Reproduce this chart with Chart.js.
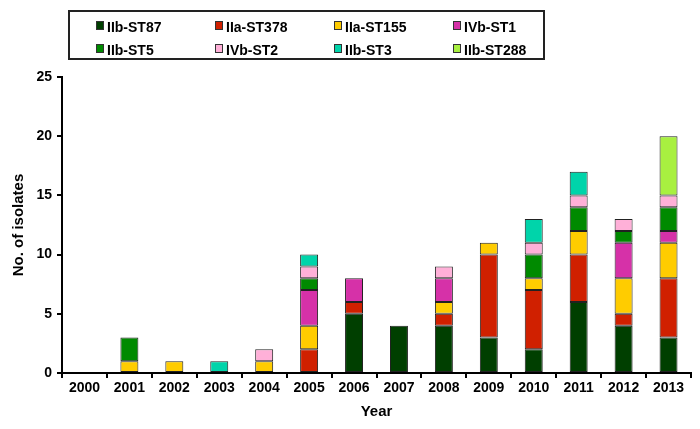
<!DOCTYPE html>
<html>
<head>
<meta charset="utf-8">
<script src="https://cdn.jsdelivr.net/npm/chart.js@4/dist/chart.umd.min.js"></script>
<style>
  html, body { margin: 0; padding: 0; background: #fff; }
  #wrap { position: relative; width: 700px; height: 429px; }
  #legend {
    position: absolute; left: 68px; top: 10px; width: 477px; height: 50px;
    border: 2px solid #222; box-sizing: border-box;
    display: grid; grid-template-columns: repeat(4, 119px); grid-auto-rows: 23px;
    padding: 3px 0 0 26px;
    font: bold 14px "Liberation Sans", Arial, sans-serif; color: #000;
  }
  #legend span { display: flex; align-items: center; }
  #legend i { display: inline-block; width: 6px; height: 7px; border: 1px solid #333; margin: 0 3px 3px 0; }
</style>
</head>
<body>
<div id="wrap">
  <canvas id="chart" width="700" height="429"></canvas>
  <div id="legend"></div>
</div>
<script>
( function () {
    'use strict';

    var years = [ '2000', '2001', '2002', '2003', '2004', '2005', '2006', '2007', '2008', '2009', '2010', '2011', '2012', '2013' ];

    var st87   = [ 0, 0, 0, 0, 0, 0, 5, 4, 4, 3, 2, 6, 4, 3 ];
    var st378  = [ 0, 0, 0, 0, 0, 2, 1, 0, 1, 7, 5, 4, 1, 5 ];
    var st155  = [ 0, 1, 1, 0, 1, 2, 0, 0, 1, 1, 1, 2, 3, 3 ];
    var st1    = [ 0, 0, 0, 0, 0, 3, 2, 0, 2, 0, 0, 0, 3, 1 ];
    var st5    = [ 0, 2, 0, 0, 0, 1, 0, 0, 0, 0, 2, 2, 1, 2 ];
    var st2    = [ 0, 0, 0, 0, 1, 1, 0, 0, 1, 0, 1, 1, 1, 1 ];
    var st3    = [ 0, 0, 0, 1, 0, 1, 0, 0, 0, 0, 2, 2, 0, 0 ];
    var st288  = [ 0, 0, 0, 0, 0, 0, 0, 0, 0, 0, 0, 0, 0, 5 ];

    var series = [
        { label: 'IIb-ST87',  data: st87,  color: '#003f00' },
        { label: 'IIa-ST378', data: st378, color: '#d02000' },
        { label: 'IIa-ST155', data: st155, color: '#ffcc00' },
        { label: 'IVb-ST1',   data: st1,   color: '#d631a8' },
        { label: 'IIb-ST5',   data: st5,   color: '#008a00' },
        { label: 'IVb-ST2',   data: st2,   color: '#ffb0d8' },
        { label: 'IIb-ST3',   data: st3,   color: '#00d4aa' },
        { label: 'IIb-ST288', data: st288, color: '#a8f040' },
    ];

    var font = '"Liberation Sans", Arial, sans-serif';

    /* ── Legend (two rows of four, boxed) ───────────────────────────────────── */
    var legend = document.getElementById( 'legend' );
    series.forEach( function ( s ) {
        var el = document.createElement( 'span' );
        el.innerHTML = '<i style="background:' + s.color + '"></i>' + s.label;
        legend.appendChild( el );
    } );

    var axisStyle = {
        border: { color: '#000', width: 2 },
        grid:   { display: true, drawOnChartArea: false, drawTicks: true, tickLength: 5, color: '#000', lineWidth: 2 },
        ticks:  { color: '#000', font: { family: font, size: 14, weight: 'bold' } },
        title:  { display: true, color: '#000', font: { family: font, size: 15, weight: 'bold' } },
    };

    new Chart( document.getElementById( 'chart' ), {
        type: 'bar',
        data: {
            labels:   years,
            datasets: series.map( function ( s ) {
                return {
                    label:              s.label,
                    data:               s.data,
                    backgroundColor:    s.color,
                    borderColor:        '#222',
                    borderWidth:        1,
                    borderSkipped:      false,
                    barPercentage:      0.8,
                    categoryPercentage: 0.5,
                };
            } ),
        },
        options: {
            responsive: false,
            animation:  false,
            layout: { padding: { top: 77, right: 9, left: 0, bottom: 0 } },
            plugins: {
                legend:  { display: false },
                tooltip: { enabled: false },
            },
            scales: {
                x: {
                    ...axisStyle,
                    stacked: true,
                    ticks: { ...axisStyle.ticks, padding: 2, maxRotation: 0 },
                    title: { ...axisStyle.title, text: 'Year', padding: { top: 0, bottom: 8 } },
                    afterFit: function ( scale ) { scale.height = 56; },
                },
                y: {
                    ...axisStyle,
                    stacked: true,
                    min: 0,
                    max: 25,
                    ticks: { ...axisStyle.ticks, stepSize: 5, padding: 5 },
                    title: { ...axisStyle.title, text: 'No. of isolates', padding: { top: 10, bottom: 0 } },
                    afterFit: function ( scale ) { scale.width = 62; },
                },
            },
        },
    } );
} )();
</script>
</body>
</html>
